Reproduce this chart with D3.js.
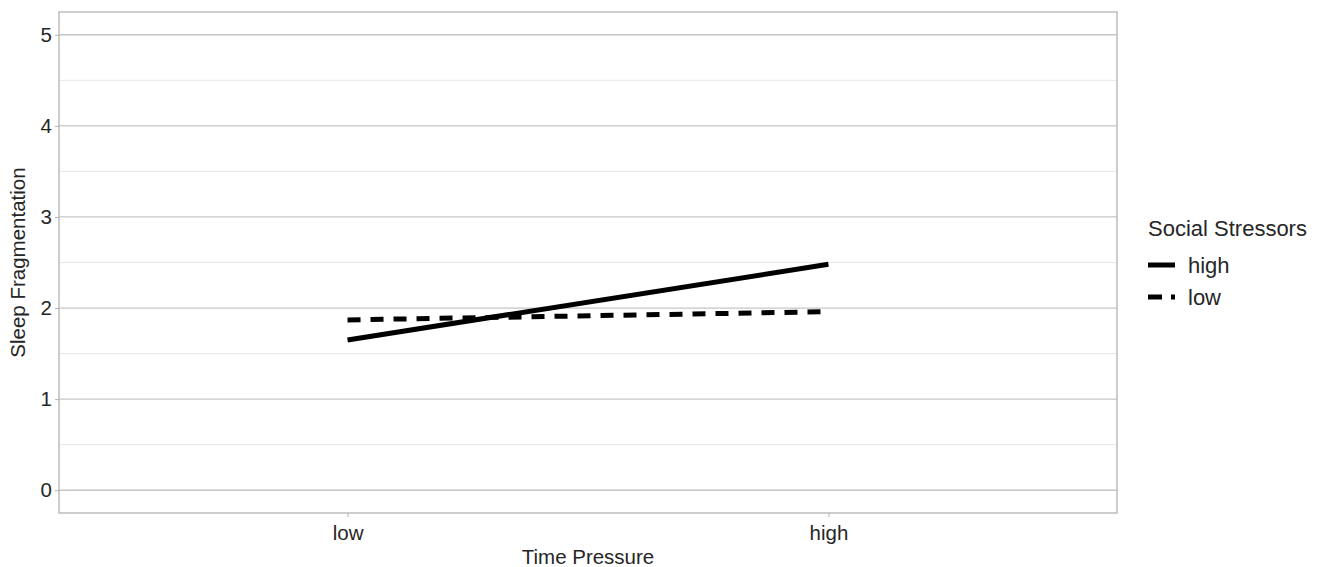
<!DOCTYPE html>
<html>
<head>
<meta charset="utf-8">
<script src="https://cdn.jsdelivr.net/npm/d3@7"></script>
<style>
  body { margin: 0; background: #fff; }
  text { font-family: "Liberation Sans", Arial, sans-serif; }
</style>
</head>
<body>
<div id="chart"></div>
<script>
var categories = ["low", "high"];
var highValues = [1.65, 2.48];
var lowValues = [1.87, 1.96];
var yTicks = [0, 1, 2, 3, 4, 5];
var yMinor = [0.5, 1.5, 2.5, 3.5, 4.5];

var width = 1320, height = 567;
var margin = {top: 12, right: 203, bottom: 54, left: 59};
var w = width - margin.left - margin.right,
    h = height - margin.top - margin.bottom;

var svg = d3.select("#chart").append("svg")
    .attr("width", width).attr("height", height);

var g = svg.append("g")
    .attr("transform", "translate(" + margin.left + "," + margin.top + ")");

var x = d3.scalePoint().domain(categories).range([0, w]).padding(0.6);
var y = d3.scaleLinear().domain([-0.25, 5.25]).range([h, 0]);

// grid
g.selectAll(".minor").data(yMinor).enter().append("line")
  .attr("x1", 0).attr("x2", w)
  .attr("y1", function(d) { return y(d); }).attr("y2", function(d) { return y(d); })
  .attr("stroke", "#e6e6e6").attr("stroke-width", 1);
g.selectAll(".major").data(yTicks).enter().append("line")
  .attr("x1", 0).attr("x2", w)
  .attr("y1", function(d) { return y(d); }).attr("y2", function(d) { return y(d); })
  .attr("stroke", "#c6c6c6").attr("stroke-width", 1.3);

g.append("rect").attr("width", w).attr("height", h)
  .attr("fill", "none").attr("stroke", "#b3b3b3").attr("stroke-width", 1.3);

// axes
var yAxis = g.append("g").call(d3.axisLeft(y).tickValues(yTicks).tickFormat(d3.format("d")).tickSize(4).tickPadding(3));
var xAxis = g.append("g").attr("transform", "translate(0," + h + ")")
  .call(d3.axisBottom(x).tickSize(4).tickPadding(8));
[yAxis, xAxis].forEach(function(a) {
  a.select(".domain").remove();
  a.selectAll(".tick line").attr("stroke", "#b3b3b3");
  a.selectAll(".tick text").attr("fill", "#262626").style("font-size", "20.5px");
});

g.append("text").attr("x", w / 2).attr("y", h + 51)
  .attr("text-anchor", "middle").style("font-size", "20.5px").attr("fill", "#262626")
  .text("Time Pressure");
g.append("text").attr("transform", "rotate(-90)")
  .attr("x", -h / 2).attr("y", -34)
  .attr("text-anchor", "middle").style("font-size", "20.5px").attr("fill", "#262626")
  .text("Sleep Fragmentation");

// lines
var series = [
  {name: "high", values: highValues, dash: null},
  {name: "low", values: lowValues, dash: "13,10"}
];
var line = d3.line()
  .x(function(d, i) { return x(categories[i]); })
  .y(function(d) { return y(d); });

series.forEach(function(s) {
  g.append("path").datum(s.values)
    .attr("d", line)
    .attr("fill", "none").attr("stroke", "#000")
    .attr("stroke-width", 5)
    .attr("stroke-dasharray", s.dash);
});

// legend
var lg = svg.append("g").attr("transform", "translate(1148,228)");
lg.append("text").attr("x", 0).attr("y", 8).style("font-size", "22px").attr("fill", "#262626")
  .text("Social Stressors");
series.forEach(function(s, i) {
  var yy = 37 + i * 32;
  lg.append("line").attr("x1", 0).attr("x2", 27).attr("y1", yy).attr("y2", yy)
    .attr("stroke", "#000").attr("stroke-width", 5)
    .attr("stroke-dasharray", s.dash ? "14,9" : null);
  lg.append("text").attr("x", 40).attr("y", yy + 8).style("font-size", "22px").attr("fill", "#262626")
    .text(s.name);
});
</script>
</body>
</html>
